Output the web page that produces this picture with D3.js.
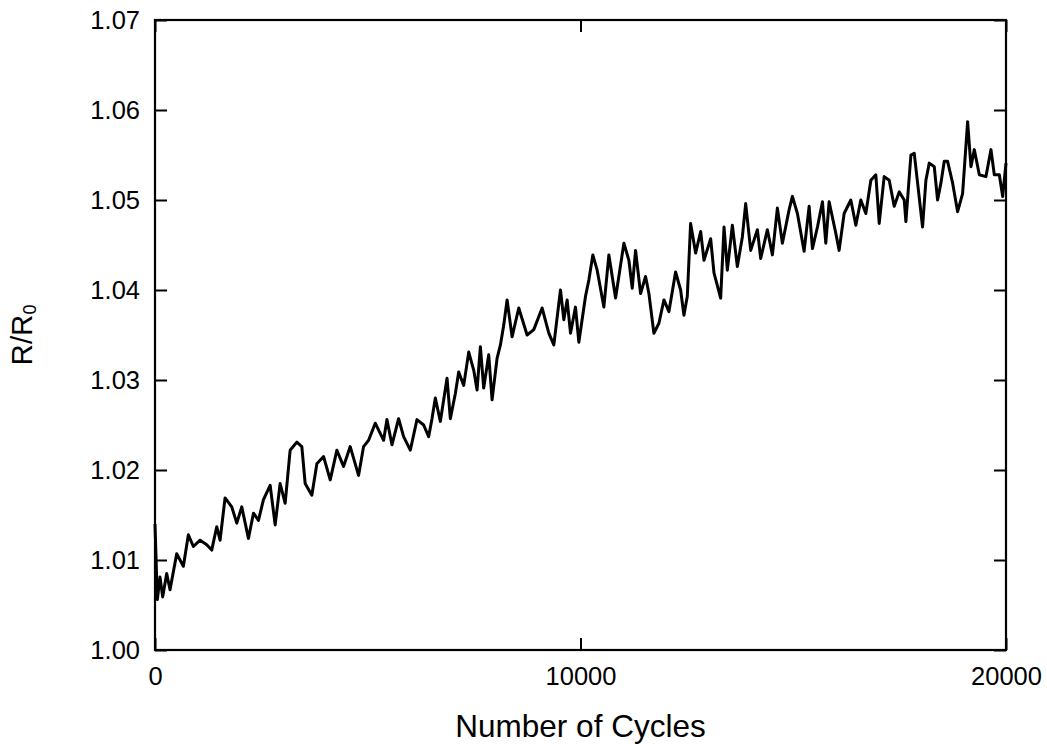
<!DOCTYPE html>
<html>
<head>
<meta charset="utf-8">
<script src="https://cdn.jsdelivr.net/npm/d3@7"></script>
<style>
  html, body { margin: 0; padding: 0; background: #fff; }
  svg { display: block; }
  text { font-family: Arial, "Liberation Sans", sans-serif; fill: #000; }
</style>
</head>
<body>
<svg id="chart" width="1047" height="744"></svg>
<script>
// Resistance ratio over fatigue cycling
const cycles = [
  0, 55, 118, 180, 275, 353, 510, 667, 784, 902,
  1059, 1216, 1333, 1451, 1529, 1647, 1804, 1922, 2039, 2196,
  2314, 2431, 2549, 2706, 2824, 2941, 3059, 3176, 3333, 3451,
  3529, 3686, 3804, 3961, 4118, 4275, 4431, 4588, 4784, 4902,
  5020, 5176, 5373, 5451, 5569, 5725, 5843, 6000, 6157, 6314,
  6431, 6510, 6588, 6706, 6863, 6941, 7059, 7137, 7255, 7373,
  7490, 7569, 7647, 7725, 7843, 7922, 8039, 8118, 8196, 8275,
  8392, 8549, 8745, 8902, 9098, 9255, 9373, 9529, 9608, 9686,
  9765, 9882, 9961, 10118, 10196, 10290, 10392, 10549, 10667, 10824,
  11020, 11137, 11216, 11294, 11412, 11529, 11608, 11725, 11843, 11961,
  12078, 12235, 12353, 12431, 12510, 12588, 12706, 12824, 12902, 13059,
  13137, 13294, 13373, 13451, 13569, 13686, 13804, 13882, 14000, 14157,
  14235, 14392, 14510, 14627, 14745, 14902, 14980, 15098, 15255, 15373,
  15451, 15569, 15686, 15765, 15843, 16000, 16078, 16196, 16353, 16471,
  16588, 16706, 16824, 16941, 17020, 17137, 17255, 17373, 17490, 17608,
  17647, 17765, 17843, 17922, 18039, 18118, 18196, 18314, 18392, 18471,
  18549, 18627, 18745, 18863, 18980, 19098, 19176, 19255, 19373, 19529,
  19647, 19725, 19843, 19922, 20000
];
const ratio = [
  1.0140, 1.0056, 1.0081, 1.0059, 1.0085, 1.0067, 1.0107, 1.0093, 1.0128, 1.0115,
  1.0122, 1.0117, 1.0111, 1.0137, 1.0122, 1.0169, 1.0159, 1.0141, 1.0159, 1.0124,
  1.0152, 1.0144, 1.0167, 1.0183, 1.0139, 1.0185, 1.0163, 1.0222, 1.0231, 1.0226,
  1.0185, 1.0172, 1.0207, 1.0215, 1.0189, 1.0222, 1.0204, 1.0226, 1.0194, 1.0226,
  1.0233, 1.0252, 1.0233, 1.0256, 1.0228, 1.0257, 1.0237, 1.0222, 1.0256, 1.0250,
  1.0237, 1.0257, 1.0280, 1.0254, 1.0302, 1.0257, 1.0285, 1.0309, 1.0294, 1.0331,
  1.0311, 1.0289, 1.0337, 1.0291, 1.0328, 1.0278, 1.0324, 1.0339, 1.0361, 1.0389,
  1.0348, 1.0380, 1.0350, 1.0356, 1.0380, 1.0352, 1.0339, 1.0400, 1.0367, 1.0389,
  1.0352, 1.0381, 1.0342, 1.0393, 1.0411, 1.0439, 1.0422, 1.0381, 1.0439, 1.0391,
  1.0452, 1.0433, 1.0402, 1.0444, 1.0396, 1.0415, 1.0396, 1.0352, 1.0363, 1.0389,
  1.0376, 1.0420, 1.0400, 1.0372, 1.0393, 1.0474, 1.0441, 1.0465, 1.0433, 1.0457,
  1.0419, 1.0391, 1.0470, 1.0422, 1.0472, 1.0426, 1.0459, 1.0496, 1.0444, 1.0467,
  1.0435, 1.0467, 1.0439, 1.0491, 1.0452, 1.0489, 1.0504, 1.0485, 1.0443, 1.0493,
  1.0446, 1.0470, 1.0498, 1.0452, 1.0498, 1.0463, 1.0444, 1.0485, 1.0500, 1.0472,
  1.0500, 1.0485, 1.0522, 1.0528, 1.0474, 1.0526, 1.0522, 1.0493, 1.0509, 1.0500,
  1.0476, 1.0550, 1.0552, 1.0519, 1.0470, 1.0522, 1.0541, 1.0537, 1.0500, 1.0519,
  1.0543, 1.0543, 1.0519, 1.0487, 1.0507, 1.0587, 1.0537, 1.0556, 1.0528, 1.0526,
  1.0556, 1.0528, 1.0528, 1.0504, 1.0541
];
const xTicks = [0, 10000, 20000];
const yTicks = [1.00, 1.01, 1.02, 1.03, 1.04, 1.05, 1.06, 1.07];
const xTitle = "Number of Cycles";

const svg = d3.select("#chart");
const plotLeft = 155, plotRight = 1006, plotTop = 20, plotBottom = 650;

const x = d3.scaleLinear().domain([0, 20000]).range([plotLeft, plotRight]);
const y = d3.scaleLinear().domain([1.00, 1.07]).range([plotBottom, plotTop]);

const tickLen = 12;

function styleAxis(g) {
  g.select(".domain").remove();
  g.selectAll(".tick line").attr("stroke", "#000").attr("stroke-width", 2);
}

// bottom axis with labels
svg.append("g")
  .attr("transform", `translate(0,${plotBottom})`)
  .call(d3.axisBottom(x).tickValues(xTicks).tickSize(-tickLen).tickPadding(17).tickFormat(d3.format("d")))
  .call(styleAxis)
  .selectAll("text").attr("font-size", 25.5);

// top axis, ticks only
svg.append("g")
  .attr("transform", `translate(0,${plotTop})`)
  .call(d3.axisTop(x).tickValues(xTicks).tickSize(-tickLen).tickFormat(""))
  .call(styleAxis);

// left axis with labels
svg.append("g")
  .attr("transform", `translate(${plotLeft},0)`)
  .call(d3.axisLeft(y).tickValues(yTicks).tickSize(-tickLen).tickPadding(15).tickFormat(d3.format(".2f")))
  .call(styleAxis)
  .selectAll("text").attr("font-size", 25.5);

// right axis, ticks only
svg.append("g")
  .attr("transform", `translate(${plotRight},0)`)
  .call(d3.axisRight(y).tickValues(yTicks).tickSize(-tickLen).tickFormat(""))
  .call(styleAxis);

// frame
svg.append("rect")
  .attr("x", plotLeft).attr("y", plotTop)
  .attr("width", plotRight - plotLeft).attr("height", plotBottom - plotTop)
  .attr("fill", "none").attr("stroke", "#000").attr("stroke-width", 2.2);

// data line
const line = d3.line()
  .x((d, i) => x(cycles[i]))
  .y(d => y(d));

svg.append("path")
  .datum(ratio)
  .attr("d", line)
  .attr("fill", "none")
  .attr("stroke", "#000")
  .attr("stroke-width", 3)
  .attr("stroke-linejoin", "round");

// axis titles
svg.append("text")
  .attr("x", (plotLeft + plotRight) / 2)
  .attr("y", 737)
  .attr("text-anchor", "middle")
  .attr("font-size", 31.5)
  .text(xTitle);

const yTitle = svg.append("text")
  .attr("transform", "translate(32,335) rotate(-90)")
  .attr("text-anchor", "middle")
  .attr("font-size", 29.5);
yTitle.append("tspan").text("R/R");
yTitle.append("tspan").attr("font-size", 18).attr("dy", 4).text("0");
</script>
</body>
</html>
